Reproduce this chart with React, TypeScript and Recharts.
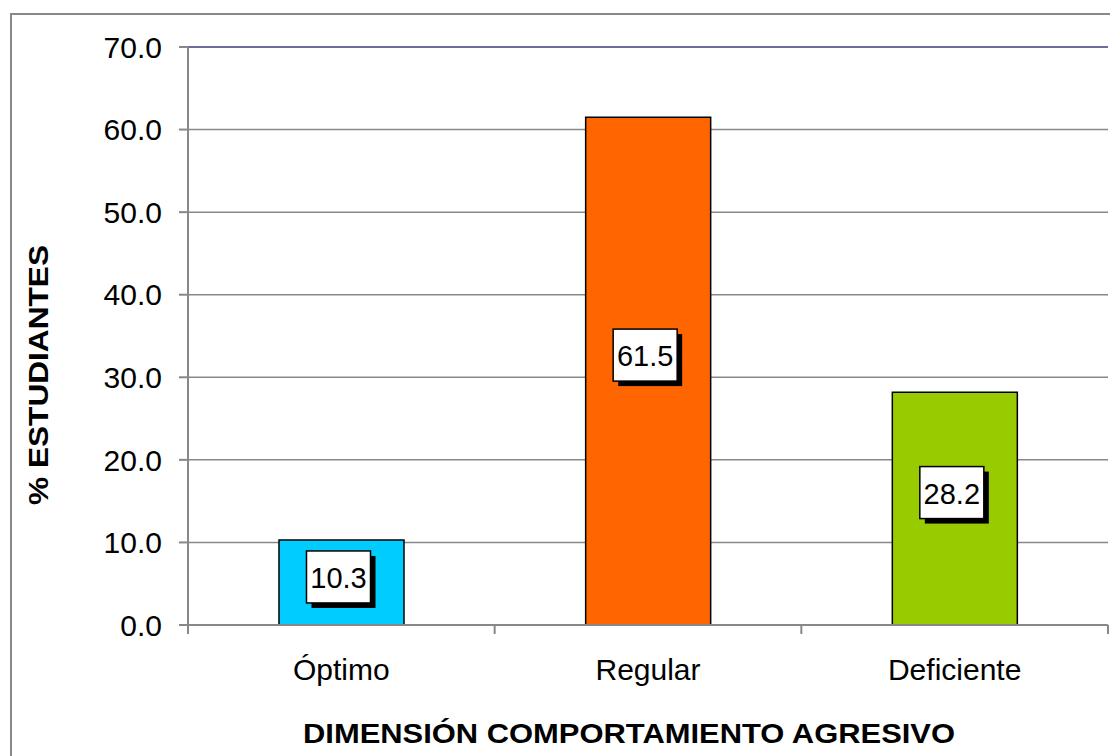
import React from 'react';
import { BarChart, Bar, XAxis, YAxis, CartesianGrid, ReferenceLine, LabelList, Cell, Label } from 'recharts';

const categories = ['Óptimo', 'Regular', 'Deficiente'];
const percentages = [10.3, 61.5, 28.2];
const barColors = ['#00ccff', '#ff6600', '#99cc00'];
const yTicks = [0, 10, 20, 30, 40, 50, 60, 70];

const data = categories.map((name, i) => ({ name, value: percentages[i] }));

const FONT = '"Liberation Sans", Arial, sans-serif';

const CategoryTick = (props: any) => {
    const { x, y, payload } = props;
    const off = payload && payload.offset ? payload.offset : 153.5;
    const last = payload.index === categories.length - 1;
    return (
        <g>
            <line x1={x - off} y1={y} x2={x - off} y2={y + 9} stroke="#888" strokeWidth={2} />
            {last && <line x1={x + off} y1={y} x2={x + off} y2={y + 9} stroke="#888" strokeWidth={2} />}
            <text x={x} y={y + 55} textAnchor="middle" fontSize={30} fontFamily={FONT} fill="#000">
                {payload.value}
            </text>
        </g>
    );
};

const ValueBox = (props: any) => {
    const { x, y, width, height, value } = props;
    const w = 64;
    const h = 52;
    const cx = x + width / 2 - 3;
    // centred a bit above the bar middle, but kept inside short bars
    const cy = Math.max(y + height / 2 - 16, y + h / 2 + 11);
    return (
        <g>
            <rect x={cx - w / 2 + 5} y={cy - h / 2 + 5} width={w} height={h} fill="#000" />
            <rect x={cx - w / 2} y={cy - h / 2} width={w} height={h} fill="#fff" stroke="#000" strokeWidth={1.5} />
            <text x={cx} y={cy + 1} textAnchor="middle" dominantBaseline="central" fontSize={29} fontFamily={FONT} fill="#000">
                {Number(value).toFixed(1)}
            </text>
        </g>
    );
};

export default function App() {
    return (
        <div style={{ position: 'absolute', left: 0, top: 0, width: 1110, height: 756, background: '#fff', overflow: 'hidden' }}>
            <div style={{ position: 'absolute', left: 10, top: 13, width: 1120, height: 780, border: '2px solid #888' }} />
            <div style={{ position: 'absolute', left: 0, top: 0 }}>
                <BarChart width={1110} height={756} data={data} margin={{ top: 47, right: 2, bottom: 0, left: 0 }} barSize={125}>
                    <CartesianGrid vertical={false} stroke="#888" strokeWidth={1.5} />
                    <XAxis
                        dataKey="name"
                        height={131}
                        stroke="#888"
                        strokeWidth={2}
                        tickLine={false}
                        tickSize={0}
                        tickMargin={0}
                        tick={<CategoryTick />}
                        interval={0}
                    >
                        <Label
                            content={() => (
                                <text
                                    x={629}
                                    y={743}
                                    textAnchor="middle"
                                    fontSize={28}
                                    fontWeight="bold"
                                    fontFamily={FONT}
                                    fill="#000"
                                    textLength={652}
                                    lengthAdjust="spacingAndGlyphs"
                                >
                                    DIMENSIÓN COMPORTAMIENTO AGRESIVO
                                </text>
                            )}
                        />
                    </XAxis>
                    <YAxis
                        width={188}
                        domain={[0, 70]}
                        ticks={yTicks}
                        interval={0}
                        tickFormatter={(v: number) => v.toFixed(1)}
                        stroke="#888"
                        strokeWidth={2}
                        tickSize={9}
                        tickMargin={17}
                        tick={{ fontSize: 30, fontFamily: FONT, fill: '#000' }}
                    >
                        <Label
                            content={() => (
                                <text
                                    x={38}
                                    y={375}
                                    transform="rotate(-90 38 375)"
                                    textAnchor="middle"
                                    dominantBaseline="central"
                                    fontSize={28}
                                    fontWeight="bold"
                                    fontFamily={FONT}
                                    fill="#000"
                                    textLength={260}
                                    lengthAdjust="spacingAndGlyphs"
                                >
                                    % ESTUDIANTES
                                </text>
                            )}
                        />
                    </YAxis>
                    <ReferenceLine y={70} stroke="#6b6b9c" strokeWidth={2} />
                    <Bar dataKey="value" stroke="#000" strokeWidth={1.5} isAnimationActive={false}>
                        {data.map((d, i) => (
                            <Cell key={d.name} fill={barColors[i]} />
                        ))}
                        <LabelList dataKey="value" content={<ValueBox />} />
                    </Bar>
                </BarChart>
            </div>
        </div>
    );
}
